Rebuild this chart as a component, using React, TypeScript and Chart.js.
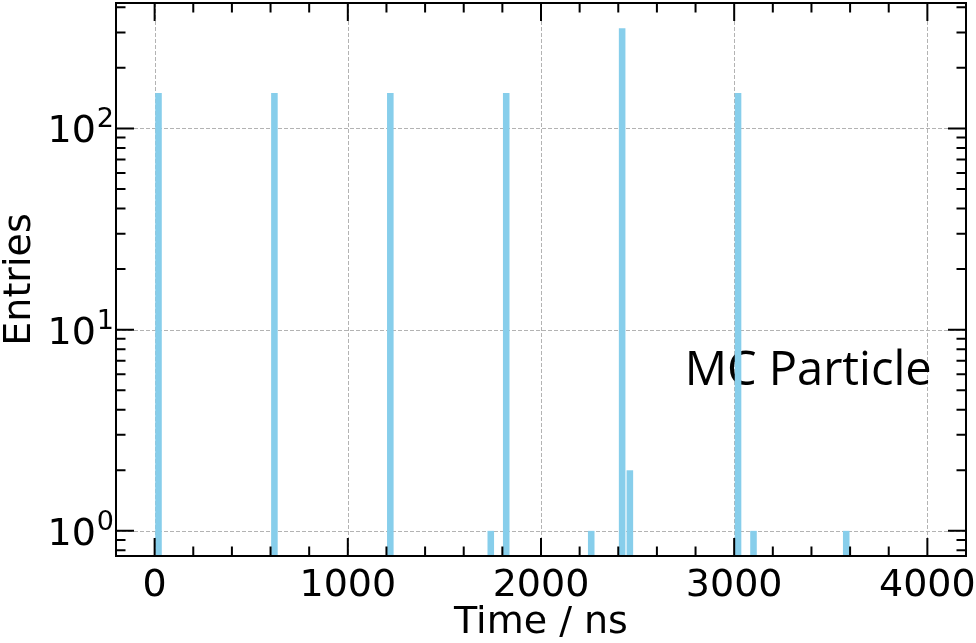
import React, { useEffect, useRef } from 'react';
import { Chart, registerables } from 'chart.js';

Chart.register(...registerables);

// ---- data (histogram, 40 ns bins) ----
const binWidthNs = 40;
const binStartsNs = [0, 600, 1200, 1720, 1800, 2240, 2400, 2440, 3000, 3080, 3560];
const entries = [150, 150, 150, 1, 150, 1, 315, 2, 150, 1, 1];

// ---- axes ----
const xRange = [-200, 4200];
const xMajorTicks = [0, 1000, 2000, 3000, 4000];
const xMinorStep = 200;
const yRange = [0.75, 420];
const yMajorTicks = [1, 10, 100];
const yTickBase = '10';
const yTickExponents = ['0', '1', '2'];

const xTitle = 'Time / ns';
const yTitle = 'Entries';
const annotationText = 'MC Particle';

const FONT = '"DejaVu Sans", sans-serif';

export default function App() {
  const ref = useRef<HTMLCanvasElement>(null);

  useEffect(() => {
    document.body.style.margin = '0';
    const canvas = ref.current!;

    const decorPlugin = {
      id: 'decor',
      beforeDatasetsDraw(chart: any) {
        const { ctx, chartArea: a, scales } = chart;
        ctx.save();
        ctx.setLineDash([4, 2]);
        ctx.strokeStyle = '#b3b3b3';
        ctx.lineWidth = 1;
        for (const v of xMajorTicks) {
          const p = Math.round(scales.x.getPixelForValue(v)) + 0.5;
          ctx.beginPath();
          ctx.moveTo(p, a.top);
          ctx.lineTo(p, a.bottom);
          ctx.stroke();
        }
        for (const v of yMajorTicks) {
          const p = Math.round(scales.y.getPixelForValue(v)) + 0.5;
          ctx.beginPath();
          ctx.moveTo(a.left, p);
          ctx.lineTo(a.right, p);
          ctx.stroke();
        }
        ctx.setLineDash([]);
        // annotation (drawn beneath the bars)
        ctx.fillStyle = '#000';
        ctx.font = '47px "Open Sans", sans-serif';
        ctx.textBaseline = 'alphabetic';
        ctx.textAlign = 'left';
        const w = a.right - a.left;
        const h = a.bottom - a.top;
        ctx.fillText(annotationText, a.left + 0.669 * w, a.bottom - 0.31 * h);
        ctx.restore();
      },
      afterDatasetsDraw(chart: any) {
        const { ctx, chartArea: a, scales } = chart;
        const majorLen = 18;
        const minorLen = 9.5;
        ctx.save();
        ctx.strokeStyle = '#000';
        ctx.lineWidth = 2;
        const vTick = (p: number, len: number) => {
          ctx.beginPath();
          ctx.moveTo(p, a.bottom);
          ctx.lineTo(p, a.bottom - len);
          ctx.moveTo(p, a.top);
          ctx.lineTo(p, a.top + len);
          ctx.stroke();
        };
        const hTick = (p: number, len: number) => {
          ctx.beginPath();
          ctx.moveTo(a.left, p);
          ctx.lineTo(a.left + len, p);
          ctx.moveTo(a.right, p);
          ctx.lineTo(a.right - len, p);
          ctx.stroke();
        };
        // x ticks
        for (let v = Math.ceil(xRange[0] / xMinorStep) * xMinorStep; v <= xRange[1]; v += xMinorStep) {
          if (v <= xRange[0] || v >= xRange[1]) continue;
          const major = xMajorTicks.includes(v);
          vTick(scales.x.getPixelForValue(v), major ? majorLen : minorLen);
        }
        // y ticks (log)
        for (let d = -1; d <= 2; d++) {
          for (let k = 1; k <= 9; k++) {
            const v = k * Math.pow(10, d);
            if (v < yRange[0] || v > yRange[1]) continue;
            hTick(scales.y.getPixelForValue(v), k === 1 ? majorLen : minorLen);
          }
        }
        // frame
        ctx.strokeRect(a.left, a.top, a.right - a.left, a.bottom - a.top);

        // y tick labels: 10^n with a real superscript
        ctx.fillStyle = '#000';
        ctx.textBaseline = 'alphabetic';
        ctx.textAlign = 'left';
        const mainFont = `38px ${FONT}`;
        const supFont = `27px ${FONT}`;
        yMajorTicks.forEach((v, i) => {
          const p = scales.y.getPixelForValue(v);
          ctx.font = supFont;
          const supW = ctx.measureText(yTickExponents[i]).width;
          ctx.font = mainFont;
          const mainW = ctx.measureText(yTickBase).width;
          const right = a.left - 3;
          const x0 = right - supW - mainW;
          const baseline = p + 14;
          ctx.fillText(yTickBase, x0, baseline);
          ctx.font = supFont;
          ctx.fillText(yTickExponents[i], x0 + mainW + 1, baseline - 15);
        });
        ctx.restore();
      },
    };

    const chart = new Chart(canvas, {
      type: 'bar',
      data: {
        datasets: [
          {
            data: binStartsNs.map((s, i) => ({ x: s + binWidthNs / 2, y: entries[i] })),
            backgroundColor: '#87CEEB',
            borderWidth: 0,
            barPercentage: 0.85,
            categoryPercentage: 1,
          },
        ],
      },
      options: {
        responsive: false,
        animation: false,
        layout: { padding: { top: 3, right: 10, left: 0, bottom: 0 } },
        plugins: { legend: { display: false }, tooltip: { enabled: false } },
        scales: {
          x: {
            type: 'linear',
            offset: false,
            min: xRange[0],
            max: xRange[1],
            afterBuildTicks: (s: any) => {
              s.ticks = xMajorTicks.map((v) => ({ value: v }));
            },
            afterFit: (s: any) => {
              s.height = 87;
              s.paddingLeft = 0;
              s.paddingRight = 0;
            },
            grid: { display: false, offset: false },
            border: { display: false },
            ticks: {
              color: '#000',
              font: { family: FONT, size: 38, lineHeight: 1 },
              padding: 3,
              maxRotation: 0,
              autoSkip: false,
              callback: (v: any) => String(v),
            },
            title: {
              display: true,
              text: xTitle,
              color: '#000',
              font: { family: FONT, size: 38, lineHeight: 1 },
              padding: { top: 0, bottom: 1 },
            },
          },
          y: {
            type: 'logarithmic',
            min: yRange[0],
            max: yRange[1],
            afterBuildTicks: (s: any) => {
              s.ticks = yMajorTicks.map((v) => ({ value: v }));
            },
            afterFit: (s: any) => {
              s.width = 116;
              s.paddingTop = 0;
              s.paddingBottom = 0;
            },
            grid: { display: false },
            border: { display: false },
            ticks: { display: false },
            title: {
              display: true,
              text: yTitle,
              color: '#000',
              font: { family: FONT, size: 38, lineHeight: 1 },
              padding: { top: 1, bottom: 0 },
            },
          },
        },
      },
      plugins: [decorPlugin],
    } as any);

    return () => chart.destroy();
  }, []);

  return <canvas ref={ref} width={976} height={643} style={{ display: 'block' }} />;
}
